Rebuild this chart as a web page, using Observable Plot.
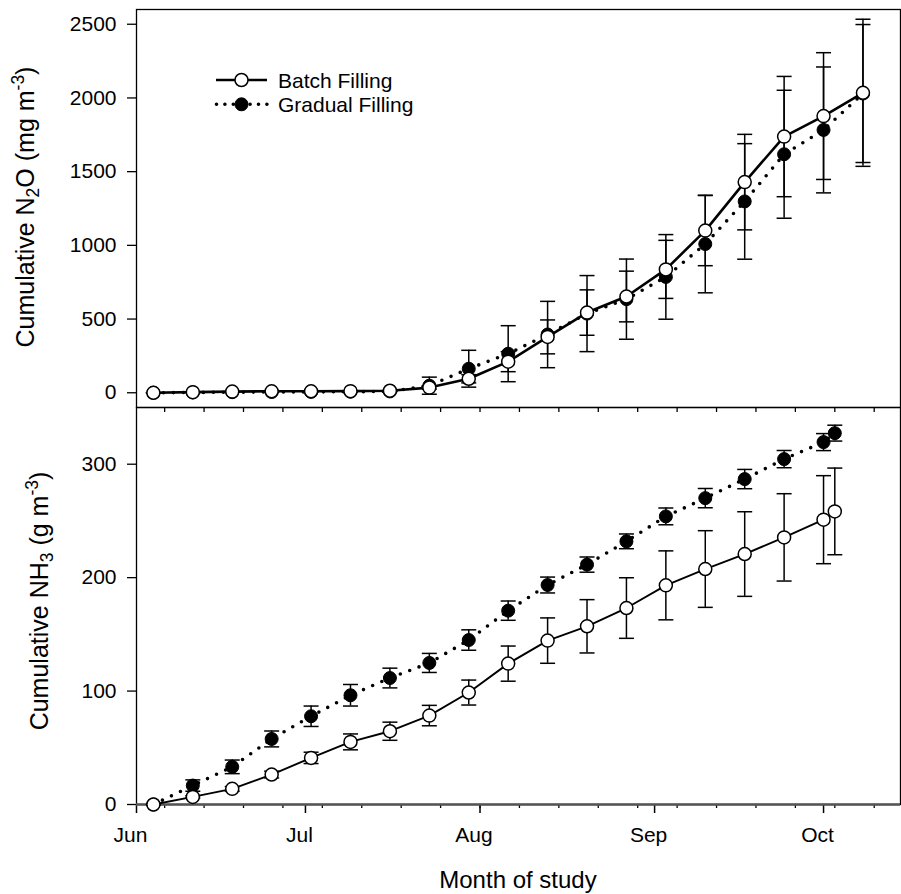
<!DOCTYPE html>
<html>
<head>
<meta charset="utf-8">
<script src="https://cdn.jsdelivr.net/npm/d3@7"></script>
<script src="https://cdn.jsdelivr.net/npm/@observablehq/plot@0.6"></script>
<style>
  body { margin: 0; background: #fff; }
  #chart { position: relative; width: 901px; }
  #chart svg { display: block; }
</style>
</head>
<body>
<div id="chart"></div>
<script>
// ---------------- data ----------------
const n2oDates = ["2010-06-04","2010-06-11","2010-06-18","2010-06-25","2010-07-02","2010-07-09","2010-07-16","2010-07-23","2010-07-30","2010-08-06","2010-08-13","2010-08-20","2010-08-27","2010-09-03","2010-09-10","2010-09-17","2010-09-24","2010-10-01","2010-10-08"];
const n2oBatch     = [0, 4, 8, 10, 10, 11, 14, 35, 95, 211, 379, 544, 653, 837, 1100, 1429, 1738, 1877, 2035];
const n2oBatchSE   = [0, 0, 0, 0, 0, 0, 3, 10, 28, 68, 115, 154, 172, 197, 238, 324, 408, 430, 499];
const n2oGradual   = [0, 2, 4, 5, 6, 7, 9, 48, 163, 265, 395, 537, 635, 786, 1009, 1298, 1618, 1783, 2030];
const n2oGradualSE = [0, 0, 0, 0, 0, 0, 3, 58, 125, 190, 225, 258, 272, 287, 331, 392, 434, 427, 468];

const nh3Dates = ["2010-06-04","2010-06-11","2010-06-18","2010-06-25","2010-07-02","2010-07-09","2010-07-16","2010-07-23","2010-07-30","2010-08-06","2010-08-13","2010-08-20","2010-08-27","2010-09-03","2010-09-10","2010-09-17","2010-09-24","2010-10-01","2010-10-03"];
const nh3Batch     = [0, 6.7, 13.8, 26.4, 41.1, 55.2, 64.6, 78.4, 98.7, 124.2, 144.5, 157.1, 173.2, 193.2, 207.6, 220.8, 235.5, 251.1, 258.4];
const nh3BatchSE   = [0, 1, 2, 3, 5, 7, 8, 9, 11, 15.5, 20, 23.5, 26.7, 30.4, 33.8, 37.3, 38.5, 38.8, 38.2];
const nh3Gradual   = [0, 16.7, 33.2, 57.8, 77.8, 96.3, 111.5, 124.8, 145, 170.9, 193.5, 211.5, 232, 254, 270.1, 286.9, 304.5, 319.5, 327.4];
const nh3GradualSE = [0, 5, 6, 7, 9, 9.5, 8.7, 8.4, 9, 8.5, 7, 6.7, 6.5, 7.4, 8.5, 8.5, 7.6, 7.5, 7];

const n2oTicks = [0, 500, 1000, 1500, 2000, 2500];
const nh3Ticks = [0, 100, 200, 300];
const xStart = "2010-06-01";
const xEnd = "2010-10-14T16:00";
const seriesNames = ["Batch Filling", "Gradual Filling"];

// ---------------- helpers ----------------
const parse = d3.utcParse("%Y-%m-%d");
const xDomain = [parse(xStart), d3.utcParse("%Y-%m-%dT%H:%M")(xEnd)];
const months = d3.utcMonth.range(xDomain[0], xDomain[1]);
const weekly = d3.utcSunday.range(xDomain[0], xDomain[1]);
const rows = (dates, vals, ses) => dates.map((d, i) => ({date: parse(d), value: vals[i], se: ses[i]}));

const capSymbol = {draw(ctx, size) { const r = Math.sqrt(size / Math.PI); ctx.moveTo(-r, 0); ctx.lineTo(r, 0); }};
const FONT = "'Liberation Sans', Arial, Helvetica, sans-serif";

function seriesMarks(batch, gradual, batchWidth) {
  const err = data => [
    Plot.ruleX(data, {x: "date", y1: d => d.value - d.se, y2: d => d.value + d.se, stroke: "black", strokeWidth: 1.5}),
    Plot.dot(data, {x: "date", y: d => d.value - d.se, symbol: capSymbol, r: 7.5, stroke: "black", strokeWidth: 1.5, fill: "none"}),
    Plot.dot(data, {x: "date", y: d => d.value + d.se, symbol: capSymbol, r: 7.5, stroke: "black", strokeWidth: 1.5, fill: "none"})
  ];
  return [
    ...err(gradual), ...err(batch),
    Plot.line(gradual, {x: "date", y: "value", stroke: "black", strokeWidth: 3.6, strokeDasharray: "0,10", strokeLinecap: "round"}),
    Plot.line(batch, {x: "date", y: "value", stroke: "black", strokeWidth: batchWidth}),
    Plot.dot(gradual, {x: "date", y: "value", r: 6.5, fill: "black", stroke: "black", strokeWidth: 1}),
    Plot.dot(batch, {x: "date", y: "value", r: 6.5, fill: "white", stroke: "black", strokeWidth: 1.5})
  ];
}

const n2oB = rows(n2oDates, n2oBatch, n2oBatchSE);
const n2oG = rows(n2oDates, n2oGradual, n2oGradualSE);
const nh3B = rows(nh3Dates, nh3Batch, nh3BatchSE);
const nh3G = rows(nh3Dates, nh3Gradual, nh3GradualSE);

// ---------------- top panel ----------------
const topPlot = Plot.plot({
  width: 901, height: 407,
  marginTop: 9, marginBottom: 0, marginLeft: 136, marginRight: 1,
  style: {fontFamily: FONT, fontSize: "21px", overflow: "visible", background: "transparent", color: "black"},
  x: {type: "utc", domain: xDomain},
  y: {domain: [-100, 2600]},
  marks: [
    Plot.frame({stroke: "black", strokeWidth: 1.3}),
    Plot.axisY({ticks: n2oTicks, tickSize: 9, tickPadding: 11, tickFormat: d => String(d), fontSize: 21, label: null, strokeWidth: 1.3}),
    Plot.axisX({ticks: weekly, tickSize: 5, fill: "none", label: null, strokeWidth: 1.3}),
    ...seriesMarks(n2oB, n2oG, 2.6)
  ]
});

// ---------------- bottom panel ----------------
const botPlot = Plot.plot({
  width: 901, height: 487,
  marginTop: 0, marginBottom: 90, marginLeft: 136, marginRight: 1,
  style: {fontFamily: FONT, fontSize: "21px", overflow: "visible", background: "transparent", color: "black"},
  x: {type: "utc", domain: xDomain},
  y: {domain: [0, 350]},
  marks: [
    Plot.frame({stroke: "black", strokeWidth: 1.3}),
    Plot.axisY({ticks: nh3Ticks, tickSize: 9, tickPadding: 11, tickFormat: d => String(d), fontSize: 21, label: null, strokeWidth: 1.3}),
    Plot.axisX({ticks: weekly, tickSize: 4, fill: "none", label: null, strokeWidth: 1.3}),
    Plot.axisX({ticks: months, tickSize: 9, fill: "none", label: null, strokeWidth: 1.5}),
    Plot.axisX({ticks: months, tickSize: 0, tickPadding: 23, tickFormat: d3.utcFormat("%b"), fontSize: 21, dx: -6, label: null}),
    Plot.ruleY([0], {stroke: "#555", strokeWidth: 2.6}),
    ...seriesMarks(nh3B, nh3G, 1.9)
  ]
});

const chart = document.getElementById("chart");
chart.appendChild(topPlot);
chart.appendChild(botPlot);

// ---------------- axis titles ----------------
function yTitle(svg, x, y, parts) {
  const t = d3.select(svg).append("text")
    .attr("transform", `translate(${x},${y}) rotate(-90)`)
    .attr("text-anchor", "middle")
    .attr("font-family", FONT).attr("font-size", 25).attr("fill", "black");
  parts.forEach(([s, kind]) => {
    const ts = t.append("tspan").text(s);
    if (kind === "sub") ts.attr("baseline-shift", "-30%").attr("font-size", "70%");
    if (kind === "sup") ts.attr("baseline-shift", "55%").attr("font-size", "70%");
  });
}
yTitle(topPlot, 34, 207, [["Cumulative N"], ["2", "sub"], ["O (mg m"], ["-3", "sup"], [")"]]);
yTitle(botPlot, 48, 194, [["Cumulative NH"], ["3", "sub"], [" (g m"], ["-3", "sup"], [")"]]);

d3.select(botPlot).append("text")
  .attr("x", 518).attr("y", 481)
  .attr("text-anchor", "middle")
  .attr("font-family", FONT).attr("font-size", 24).attr("fill", "black")
  .text("Month of study");

// ---------------- legend ----------------
const lg = d3.select(topPlot).append("g")
  .attr("font-family", FONT).attr("font-size", 21).attr("text-anchor", "start").attr("fill", "black");
// Batch
lg.append("line").attr("x1", 216).attr("x2", 267).attr("y1", 80).attr("y2", 80).attr("stroke", "black").attr("stroke-width", 2.6);
lg.append("circle").attr("cx", 241.5).attr("cy", 80).attr("r", 6.5).attr("fill", "white").attr("stroke", "black").attr("stroke-width", 1.5);
lg.append("text").attr("x", 278).attr("y", 87.5).attr("text-anchor", "start").text(seriesNames[0]);
// Gradual
lg.append("line").attr("x1", 216.5).attr("x2", 267).attr("y1", 104.3).attr("y2", 104.3).attr("stroke", "black")
  .attr("stroke-width", 3.6).attr("stroke-dasharray", "0,8.4").attr("stroke-linecap", "round");
lg.append("circle").attr("cx", 241.5).attr("cy", 104.3).attr("r", 6.5).attr("fill", "black").attr("stroke", "black");
lg.append("text").attr("x", 278).attr("y", 111.7).attr("text-anchor", "start").text(seriesNames[1]);
</script>
</body>
</html>
